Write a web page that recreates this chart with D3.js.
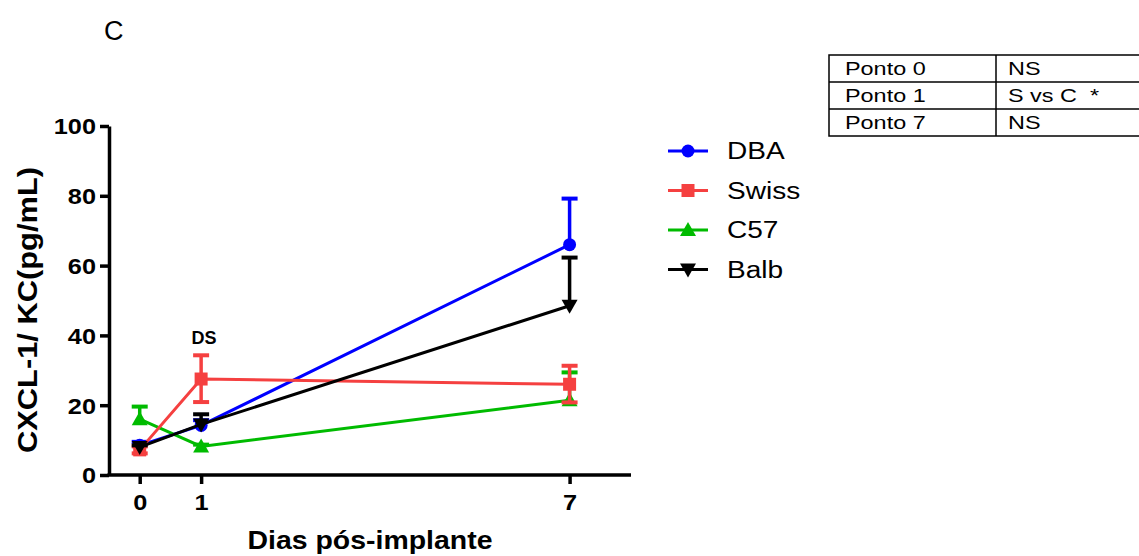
<!DOCTYPE html>
<html>
<head>
<meta charset="utf-8">
<script src="https://cdn.jsdelivr.net/npm/d3@7"></script>
<style>
body { margin: 0; background: #fff; font-family: "Liberation Sans", Arial, sans-serif; }
</style>
</head>
<body>
<svg id="chart" width="1139" height="556"></svg>
<script>
let width = 1139
let height = 556

// data
let days = [0, 1, 7]
let series_names = ['DBA', 'Swiss', 'C57', 'Balb']
let series_colors = ['#0000ff', '#f54040', '#00bb00', '#000000']
let dba_mean = [8.5, 14.2, 66]
let dba_err_up = [1, 1.5, 13.2]
let dba_err_down = [0, 0, 0]
let swiss_mean = [7.2, 27.5, 26]
let swiss_err_up = [1, 6.8, 5.3]
let swiss_err_down = [1, 6.6, 5.2]
let c57_mean = [16, 8.2, 21.4]
let c57_err_up = [3.6, 0.5, 8]
let c57_err_down = [0, 0, 0]
let balb_mean = [8, 14.5, 48.5]
let balb_err_up = [0.5, 2.9, 13.8]
let balb_err_down = [0, 0, 0]
let y_ticks = [0, 20, 40, 60, 80, 100]
let table_rows = [['Ponto 0', 'NS'], ['Ponto 1', 'S vs C  *'], ['Ponto 7', 'NS']]

let series = [
    { name: 'DBA', mean: dba_mean, up: dba_err_up, down: dba_err_down, symbol: 'circle' },
    { name: 'Swiss', mean: swiss_mean, up: swiss_err_up, down: swiss_err_down, symbol: 'square' },
    { name: 'C57', mean: c57_mean, up: c57_err_up, down: c57_err_down, symbol: 'up' },
    { name: 'Balb', mean: balb_mean, up: balb_err_up, down: balb_err_down, symbol: 'down' }
]
series.forEach((s, i) => s.color = series_colors[i])

let svg = d3.select('#chart')

let x = d3.scaleLinear().domain([-0.5, 8]).range([109, 631])
let y = d3.scaleLinear().domain([0, 100]).range([475, 126])

// the original figure is a little wider than its fonts, so stretch texts
function stretch(sel, factor) {
    sel.each(function () {
        let w = this.getComputedTextLength()
        d3.select(this).attr('textLength', w * factor).attr('lengthAdjust', 'spacingAndGlyphs')
    })
}

function draw_marker(g, symbol, cx, cy, color) {
    if (symbol == 'circle') {
        g.append('circle').attr('cx', cx).attr('cy', cy).attr('r', 6.5).attr('fill', color)
    } else if (symbol == 'square') {
        g.append('rect').attr('x', cx - 6.5).attr('y', cy - 6.5).attr('width', 13).attr('height', 13).attr('fill', color)
    } else if (symbol == 'up') {
        g.append('path').attr('d', `M${cx},${cy - 8}L${cx + 8},${cy + 6}L${cx - 8},${cy + 6}Z`).attr('fill', color)
    } else {
        g.append('path').attr('d', `M${cx},${cy + 8}L${cx + 8},${cy - 6}L${cx - 8},${cy - 6}Z`).attr('fill', color)
    }
}

// y axis
let axis_y = d3.axisLeft(y).tickValues(y_ticks).tickSize(9).tickSizeOuter(0)
let gy = svg.append('g').attr('transform', `translate(${109}, 0)`).call(axis_y)
gy.select('.domain').attr('stroke-width', 3.5)
gy.selectAll('.tick line').attr('stroke-width', 3.5)
gy.selectAll('.tick text')
    .attr('font-family', 'Liberation Sans, Arial, sans-serif')
    .attr('font-weight', 'bold').attr('font-size', '22px').attr('fill', '#000')
    .attr('x', -13).attr('dy', '0.36em')
stretch(gy.selectAll('.tick text'), 1.15)

// x axis
let axis_x = d3.axisBottom(x).tickValues(days).tickSize(9).tickSizeOuter(0)
let gx = svg.append('g').attr('transform', `translate(0, ${475})`).call(axis_x)
gx.select('.domain').attr('stroke-width', 3.5).attr('d', `M${107.5},0H${631}`)
gx.selectAll('.tick line').attr('stroke-width', 3.5)
gx.selectAll('.tick text')
    .attr('font-family', 'Liberation Sans, Arial, sans-serif')
    .attr('font-weight', 'bold').attr('font-size', '22px').attr('fill', '#000')
    .attr('y', 19).attr('dy', '0.71em')
stretch(gx.selectAll('.tick text'), 1.15)

// axis titles
let ylab = svg.append('text')
    .attr('transform', `translate(${37}, ${310}) rotate(-90)`)
    .attr('text-anchor', 'middle')
    .attr('font-weight', 'bold').attr('font-size', '27px')
    .text('CXCL-1/ KC(pg/mL)')
ylab.attr('textLength', 286).attr('lengthAdjust', 'spacingAndGlyphs')

let xlab = svg.append('text')
    .attr('x', 370).attr('y', 549)
    .attr('text-anchor', 'middle')
    .attr('font-weight', 'bold').attr('font-size', '26px')
    .text('Dias pós-implante')
xlab.attr('textLength', 245).attr('lengthAdjust', 'spacingAndGlyphs')

svg.append('text')
    .attr('x', 104).attr('y', 40)
    .attr('font-size', '27px')
    .text('C')

// error bars, lines, markers
let plot = svg.append('g')
let draw_order = [0, 2, 1, 3]
draw_order.forEach(k => {
    let s = series[k]
    let g = plot.append('g')
    s.mean.forEach((m, i) => {
        let cx = x(days[i])
        let top = y(m + s.up[i])
        let bot = y(m - s.down[i])
        if (s.up[i] > 0 || s.down[i] > 0) {
            g.append('line').attr('x1', cx).attr('x2', cx).attr('y1', top).attr('y2', bot)
                .attr('stroke', s.color).attr('stroke-width', 3.5)
        }
        if (s.up[i] > 0) {
            g.append('line').attr('x1', cx - 8).attr('x2', cx + 8).attr('y1', top).attr('y2', top)
                .attr('stroke', s.color).attr('stroke-width', 4)
        }
        if (s.down[i] > 0) {
            g.append('line').attr('x1', cx - 8).attr('x2', cx + 8).attr('y1', bot).attr('y2', bot)
                .attr('stroke', s.color).attr('stroke-width', 4)
        }
    })
    let line = d3.line().x((d, i) => x(days[i])).y(d => y(d))
    g.append('path').attr('d', line(s.mean)).attr('fill', 'none')
        .attr('stroke', s.color).attr('stroke-width', 3)
    s.mean.forEach((m, i) => draw_marker(g, s.symbol, x(days[i]), y(m), s.color))
})

// DS annotation
svg.append('text')
    .attr('x', x(1) + 3).attr('y', 344)
    .attr('text-anchor', 'middle')
    .attr('font-weight', 'bold').attr('font-size', '18px')
    .text('DS')

// legend
let legend = svg.append('g')
series.forEach((s, i) => {
    let ly = 151 + i * 39.5
    legend.append('line').attr('x1', 668).attr('x2', 708).attr('y1', ly).attr('y2', ly)
        .attr('stroke', s.color).attr('stroke-width', 3)
    draw_marker(legend, s.symbol, 688, ly, s.color)
    legend.append('text').attr('class', 'leg').attr('x', 727).attr('y', ly).attr('dy', '0.36em')
        .attr('font-size', '23px').text(s.name)
})
stretch(legend.selectAll('text.leg'), 1.22)

// table
let table = svg.append('g')
let tx0 = 829, tx1 = 996, tx2 = 1139, ty0 = 55, row_h = 27
table.append('rect').attr('x', tx0).attr('y', ty0)
    .attr('width', tx2 - tx0 + 2).attr('height', row_h * table_rows.length)
    .attr('fill', 'none').attr('stroke', '#000').attr('stroke-width', 1.5)
table.append('line').attr('x1', tx1).attr('x2', tx1).attr('y1', ty0).attr('y2', ty0 + row_h * table_rows.length)
    .attr('stroke', '#000').attr('stroke-width', 1.5)
table_rows.forEach((r, i) => {
    if (i > 0) {
        table.append('line').attr('x1', tx0).attr('x2', tx2 + 2).attr('y1', ty0 + row_h * i).attr('y2', ty0 + row_h * i)
            .attr('stroke', '#000').attr('stroke-width', 1.5)
    }
    table.append('text').attr('class', 'cell').attr('x', 845).attr('y', ty0 + row_h * i + row_h / 2).attr('dy', '0.36em')
        .attr('font-size', '18px').text(r[0])
    table.append('text').attr('class', 'cell').attr('x', 1008).attr('y', ty0 + row_h * i + row_h / 2).attr('dy', '0.36em')
        .attr('font-size', '18px').attr('xml:space', 'preserve').style('white-space', 'pre').text(r[1])
})
stretch(table.selectAll('text.cell'), 1.3)
</script>
</body>
</html>
